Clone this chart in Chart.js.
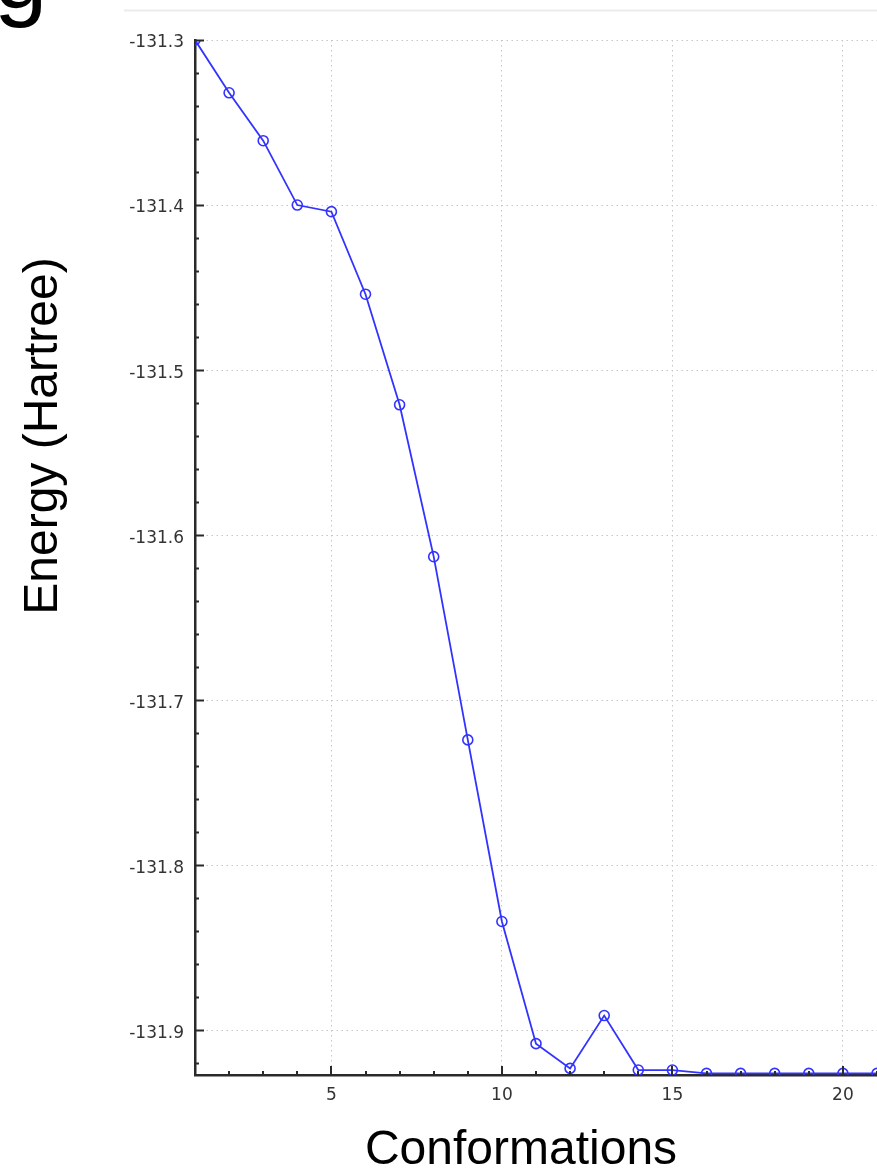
<!DOCTYPE html>
<html>
<head>
<meta charset="utf-8">
<script src="https://cdn.jsdelivr.net/npm/chart.js@4/dist/chart.umd.min.js"></script>
<style>
html,body{margin:0;padding:0;background:#fff;overflow:hidden}
#wrap{position:relative;width:877px;height:1168px}
canvas{display:block}
</style>
</head>
<body>
<div id="wrap"><canvas id="c" width="877" height="1168"></canvas></div>
<script>
// ---- data ----
const conformations = [1,2,3,4,5,6,7,8,9,10,11,12,13,14,15,16,17,18,19,20,21];
const energies = [-131.300,-131.332,-131.361,-131.400,-131.404,-131.454,-131.521,-131.613,-131.724,-131.834,
                  -131.908,-131.923,-131.891,-131.924,-131.924,-131.926,-131.926,-131.926,-131.926,-131.926,-131.926];
const xMajorTicks = [5,10,15,20];
const xTickLabels = ['5','10','15','20'];
const yMajorTicks = [-131.3,-131.4,-131.5,-131.6,-131.7,-131.8,-131.9];
const yTickLabels = ['-131.3','-131.4','-131.5','-131.6','-131.7','-131.8','-131.9'];
const xTitle = 'Conformations';
const yTitle = 'Energy (Hartree)';
const topFragment = 'g';

const X_MIN = 1, X_MAX = 21, X_MINOR = 1;
const Y_MIN = -131.927, Y_MAX = -131.3, Y_MINOR = 0.02;

function majorIndex(list, v){
  for (let i=0;i<list.length;i++) if (Math.abs(list[i]-v) < 1e-6) return i;
  return -1;
}

const decorations = {
  id: 'decorations',
  beforeDraw(chart){
    const ctx = chart.ctx;
    ctx.save();
    ctx.fillStyle = '#fff';
    ctx.fillRect(0,0,chart.width,chart.height);
    // frame line at top
    ctx.strokeStyle = '#ebebeb';
    ctx.lineWidth = 2;
    ctx.beginPath(); ctx.moveTo(124,10.5); ctx.lineTo(chart.width,10.5); ctx.stroke();
    // cut-off fragment at top-left
    ctx.fillStyle = '#000';
    ctx.font = '96px "Liberation Sans", Arial, sans-serif';
    ctx.textAlign = 'left';
    ctx.textBaseline = 'alphabetic';
    ctx.fillText(topFragment, -6, 8);
    ctx.restore();
  },
  afterDraw(chart){
    const ctx = chart.ctx;
    const xs = chart.scales.x, ys = chart.scales.y;
    const area = chart.chartArea;
    ctx.save();
    ctx.strokeStyle = '#2a2a2a';
    ctx.lineWidth = 2;
    ctx.beginPath();
    xs.ticks.forEach(t => {
      if (t.value <= X_MIN + 1e-9) return;
      const px = Math.round(xs.getPixelForValue(t.value));
      const len = majorIndex(xMajorTicks, t.value) >= 0 ? 9 : 4;
      ctx.moveTo(px, area.bottom); ctx.lineTo(px, area.bottom - len);
    });
    ys.ticks.forEach(t => {
      const py = Math.round(ys.getPixelForValue(t.value)) + 0.5;
      const len = majorIndex(yMajorTicks, t.value) >= 0 ? 9 : 4;
      ctx.moveTo(area.left, py); ctx.lineTo(area.left + len, py);
    });
    ctx.stroke();
    // axis titles
    ctx.fillStyle = '#000';
    ctx.font = '48px "Liberation Sans", Arial, sans-serif';
    ctx.textAlign = 'center';
    ctx.textBaseline = 'alphabetic';
    ctx.fillText(xTitle, 521, 1164);
    ctx.translate(57, 436);
    ctx.rotate(-Math.PI/2);
    ctx.fillText(yTitle, 0, 0);
    ctx.restore();
  }
};

new Chart(document.getElementById('c'), {
  type: 'line',
  data: {
    datasets: [{
      data: conformations.map((c,i) => ({x: c, y: energies[i]})),
      borderColor: '#3333ff',
      borderWidth: 1.8,
      pointRadius: 5,
      pointHoverRadius: 5,
      pointBorderWidth: 1.6,
      pointBorderColor: '#3333ff',
      pointBackgroundColor: 'rgba(0,0,0,0)',
      tension: 0,
      fill: false,
      clip: 0
    }]
  },
  options: {
    responsive: false,
    devicePixelRatio: 1,
    animation: false,
    events: [],
    layout: {autoPadding: false, padding: {top: 40, left: 0, right: 0, bottom: 0}},
    plugins: {legend: {display: false}, tooltip: {enabled: false}, title: {display: false}},
    scales: {
      x: {
        type: 'linear', min: X_MIN, max: X_MAX,
        afterFit(s){ s.height = 93; s.paddingLeft = 0; s.paddingRight = 0; },
        afterBuildTicks(s){
          const t = [];
          for (let v = X_MIN; v <= X_MAX + 1e-9; v += X_MINOR) t.push({value: v});
          s.ticks = t;
        },
        ticks: {
          autoSkip: false, maxRotation: 0, padding: 10,
          color: '#333', font: {family: 'DejaVu Sans', size: 17},
          callback(v){ const i = majorIndex(xMajorTicks, v); return i >= 0 ? xTickLabels[i] : ''; }
        },
        grid: {
          drawTicks: false, lineWidth: 1,
          color: c => (c.tick && majorIndex(xMajorTicks, c.tick.value) >= 0) ? '#c6c6c6' : 'rgba(0,0,0,0)'
        },
        border: {display: true, color: '#2a2a2a', width: 2.5, dash: [1.5,3.5]}
      },
      y: {
        type: 'linear', min: Y_MIN, max: Y_MAX,
        afterFit(s){ s.width = 195; s.paddingTop = 0; s.paddingBottom = 0; },
        afterBuildTicks(s){
          const t = [];
          for (let k = 0; ; k++) {
            const v = Math.round((Y_MAX - k*Y_MINOR)*1000)/1000;
            if (v < Y_MIN) break;
            t.push({value: v});
          }
          s.ticks = t.reverse();
        },
        ticks: {
          autoSkip: false, padding: 11, labelOffset: 3,
          color: '#333', font: {family: 'DejaVu Sans', size: 17},
          callback(v){ const i = majorIndex(yMajorTicks, v); return i >= 0 ? yTickLabels[i] : ''; }
        },
        grid: {
          drawTicks: false, lineWidth: 1,
          color: c => (c.tick && majorIndex(yMajorTicks, c.tick.value) >= 0) ? '#c6c6c6' : 'rgba(0,0,0,0)'
        },
        border: {display: true, color: '#2a2a2a', width: 2.5, dash: [1.5,3.5]}
      }
    }
  },
  plugins: [decorations]
});
</script>
</body>
</html>
